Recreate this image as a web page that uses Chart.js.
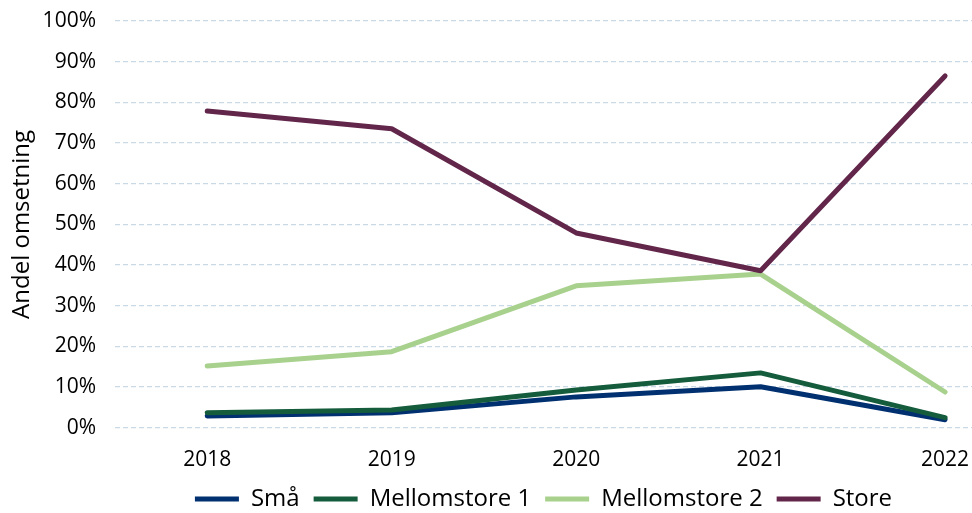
<!DOCTYPE html>
<html lang="no">
  <head>
    <meta charset="UTF-8" />
    <title>Andel omsetning</title>
    <script src="https://cdn.jsdelivr.net/npm/chart.js@4"></script>
    <style>
      html, body { margin: 0; padding: 0; background: #fff; }
      .chart-box { width: 972px; height: 513px; position: relative; }
    </style>
  </head>
  <body>
    <div class="chart-box">
      <canvas id="andelChart"></canvas>
    </div>

    <script>
      // years on the x axis
      const years = [2018, 2019, 2020, 2021, 2022];

      // share of turnover per size group (%)
      const sma = [2.9, 3.7, 7.6, 10.1, 2.0];
      const mellomstore1 = [3.7, 4.4, 9.3, 13.5, 2.5];
      const mellomstore2 = [15.2, 18.7, 34.9, 37.8, 8.8];
      const store = [77.9, 73.5, 47.9, 38.6, 86.5];

      const seriesNames = ["Små", "Mellomstore 1", "Mellomstore 2", "Store"];
      const seriesColors = ["#003070", "#155c3c", "#a9d18e", "#62264a"];
      const seriesValues = [sma, mellomstore1, mellomstore2, store];

      const fontFamily = "'Open Sans', 'Noto Sans', sans-serif";
      Chart.defaults.font.family = fontFamily;
      Chart.defaults.color = "#000";

      const datasets = seriesValues.map((vals, i) => ({
        label: seriesNames[i],
        data: vals.map((v, j) => ({ x: years[j], y: v })),
        borderColor: seriesColors[i],
        backgroundColor: seriesColors[i],
        borderWidth: 5,
        borderCapStyle: "round",
        borderJoinStyle: "round",
        pointRadius: 0,
        pointHoverRadius: 0,
        tension: 0,
        // later series drawn on top
        order: seriesNames.length - i,
      }));

      // drop the extra room chart.js keeps for the edge tick labels
      function noEdgePadding(scale) {
        scale.paddingLeft = 0;
        scale.paddingRight = 0;
        scale.paddingTop = 0;
        scale.paddingBottom = 0;
      }

      const ctx = document.getElementById("andelChart").getContext("2d");

      new Chart(ctx, {
        type: "line",
        data: { datasets: datasets },
        options: {
          responsive: true,
          maintainAspectRatio: false,
          animation: false,
          layout: {
            padding: { top: 21, right: 0, bottom: -8, left: 4 },
          },
          plugins: {
            tooltip: { enabled: false },
            legend: {
              position: "bottom",
              fullSize: false,
              labels: {
                usePointStyle: true,
                pointStyle: "line",
                pointStyleWidth: 44,
                padding: 14,
                font: { size: 24 },
                color: "#000",
                // keep legend in series order, not drawing order
                sort: (a, b) => a.datasetIndex - b.datasetIndex,
              },
            },
          },
          scales: {
            x: {
              type: "linear",
              min: 2017.5,
              max: 2022.146,
              afterBuildTicks: (axis) => {
                axis.ticks = years.map((v) => ({ value: v }));
              },
              afterFit: noEdgePadding,
              // invisible tick marks give the gap above the year labels
              grid: {
                display: true,
                drawOnChartArea: false,
                drawTicks: true,
                tickLength: 20,
                color: "rgba(0,0,0,0)",
                tickColor: "rgba(0,0,0,0)",
              },
              border: { display: false },
              ticks: {
                padding: 0,
                font: { size: 21 },
                callback: (v) => String(v),
              },
            },
            y: {
              min: 0,
              max: 100,
              afterFit: (scale) => {
                noEdgePadding(scale);
                // fixed axis width: title + labels + gap
                scale.width = 111;
              },
              grid: {
                color: "#c9d9e5",
                lineWidth: 1.3,
                drawTicks: false,
              },
              border: { display: false, dash: [5, 3] },
              ticks: {
                stepSize: 10,
                padding: 19,
                font: { size: 21 },
                callback: (v) => v + "%",
              },
              title: {
                display: true,
                text: "Andel omsetning",
                font: { size: 24, lineHeight: 1 },
                padding: { top: 6, bottom: 0 },
              },
            },
          },
        },
      });
    </script>
  </body>
</html>
